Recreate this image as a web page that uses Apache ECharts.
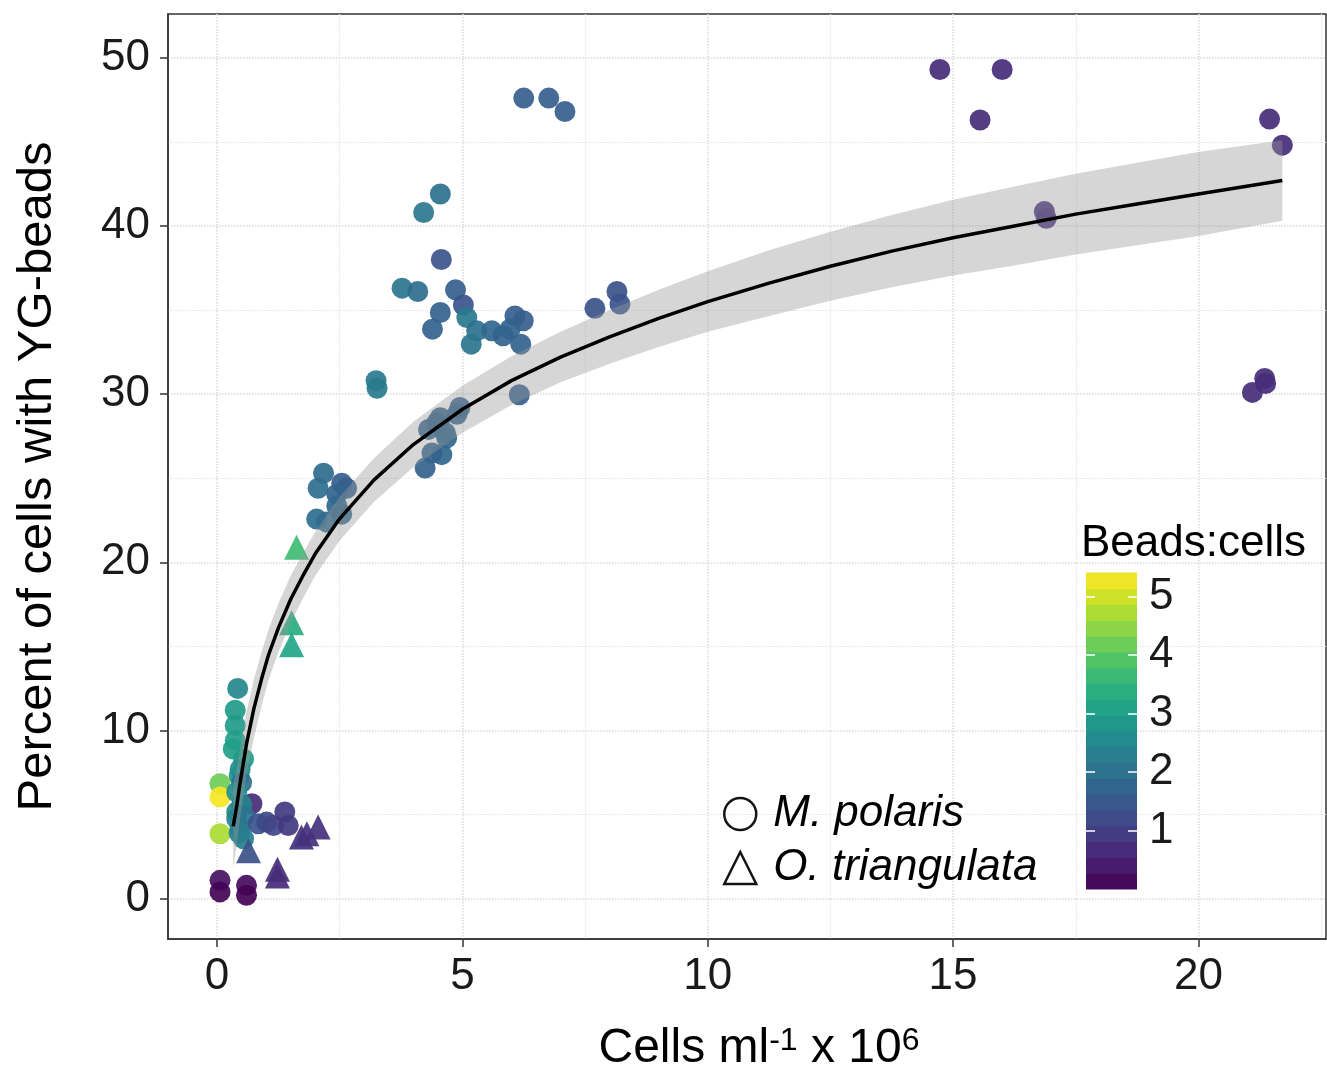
<!DOCTYPE html>
<html><head><meta charset="utf-8">
<script src="https://cdn.jsdelivr.net/npm/echarts@6/dist/echarts.min.js"></script>
<style>html,body{margin:0;padding:0;background:#fff}#c{width:1327px;height:1078px}</style>
</head><body><div id="c"></div>
<script>
// ---- data ----
const polarisX = [14.73,16.0,15.55,21.45,21.71,16.86,16.9,21.1,21.35,21.37,
  6.25,6.76,7.09, 7.7,8.15,8.21,
  4.55,4.21,4.57,3.77,4.09,4.86,5.02,4.55,5.09,4.39,5.29,5.18,5.6,5.83,6.07,6.24,5.97,6.19,3.24,3.26,6.16,
  4.24,4.58,4.38,4.55,4.31,4.65,4.68,4.95,4.89,4.48,
  2.17,2.06,2.54,2.64,2.44,2.03,2.23,2.54,2.44,
  0.42,0.37,0.37,0.37,0.33,0.54,0.47,0.45,0.5,0.06,0.06,0.4,0.71,0.4,0.5,0.06,0.4,0.47,0.55,0.54,0.45,
  0.84,1.01,1.15,1.38,1.45,0.06,0.06,0.6,0.6];
const polarisY = [49.3,49.3,46.3,46.35,44.8,40.85,40.45,30.1,30.93,30.63,
  47.6,47.6,46.8, 35.1,36.1,35.35,
  41.9,40.8,38.0,36.3,36.1,36.2,35.3,34.85,34.55,33.86,33.76,32.97,33.76,33.47,34.65,34.36,33.86,32.97,30.8,30.35,29.96,
  25.6,26.4,26.5,28.6,27.9,27.7,27.4,29.2,28.8,28.3,
  25.3,24.4,24.7,24.4,24.05,22.57,22.4,22.86,23.35,
  12.5,11.2,10.3,9.4,8.9,8.3,7.7,7.3,6.9,6.83,6.04,6.33,5.64,5.15,5.6,3.86,4.75,4.16,4.9,3.56,3.9,
  4.45,4.55,4.35,5.15,4.35,1.09,0.4,0.79,0.2];
const polarisRatio = [0.7,0.7,0.7,0.7,0.7,0.75,0.75,0.7,0.7,0.7,
  1.6,1.6,1.6, 1.35,1.35,1.4,
  2.0,2.15,1.4,2.1,1.95,1.6,1.4,1.7,2.2,1.7,2.0,2.1,1.8,1.7,1.6,1.6,1.7,1.7,2.2,2.2,1.6,
  1.7,1.8,1.7,1.7,1.7,1.7,1.8,1.7,1.7,1.7,
  1.9,1.95,1.6,1.65,1.7,1.95,1.9,1.8,1.8,
  2.5,2.9,2.9,3.0,3.0,2.9,2.6,2.7,2.0,4.2,5.35,2.6,0.7,2.5,2.4,4.7,2.4,2.2,2.1,2.3,2.3,
  1.4,1.2,1.1,0.9,0.9,0.25,0.05,0.15,0.02];

const triX = [1.62,1.52,1.52,0.64,1.72,1.83,2.06,1.23,1.23];
const triY = [20.9,16.4,15.1,2.85,3.66,3.86,4.26,1.35,1.75];
const triRatio = [3.7,3.35,3.2,1.35,0.75,0.75,0.75,0.7,0.7];

// fitted curve and its confidence band
const fitX  = [0.33,0.4,0.47,0.6,0.75,0.91,1.05,1.25,1.5,1.75,2.0,2.5,3.2,4.0,5.0,6.0,7.0,8.0,9.0,10.0,11.25,12.5,13.75,15.0,16.25,17.5,18.75,20.0,21.71];
const fitY  = [4.3,5.5,6.9,9.2,11.3,13.1,14.5,16.1,17.8,19.2,20.5,22.6,24.9,27.0,29.1,30.8,32.2,33.4,34.5,35.5,36.6,37.6,38.5,39.3,40.0,40.7,41.3,41.9,42.7];
const fitLo = [1.8,3.2,4.8,7.3,9.55,11.5,13.0,14.65,16.4,17.85,19.2,21.3,23.6,25.65,27.7,29.35,30.7,31.8,32.8,33.7,34.65,35.55,36.35,37.05,37.65,38.3,38.85,39.4,40.3];
const fitHi = [6.8,7.8,9.0,11.1,13.05,14.7,16.0,17.55,19.2,20.55,21.8,23.9,26.2,28.35,30.5,32.25,33.7,35.0,36.2,37.3,38.55,39.65,40.65,41.55,42.35,43.1,43.75,44.4,45.1];

const xTicks = [0,5,10,15,20];
const yTicks = [0,10,20,30,40,50];
const barTicks = [1,2,3,4,5];
const ratioMin = 0, ratioMax = 5.4, barSteps = 20;

const viridis = ['#440154','#482475','#414487','#355f8d','#2a788e','#21918c','#22a884','#44bf70','#7ad151','#bddf26','#fde725'];
const FONT = "'Liberation Sans', Arial, Helvetica, sans-serif";

// colour-bar legend steps (legend construction, not data)
const barLevels = [];
for (let i = 0; i < barSteps; i++) {
  const lo = ratioMin + (ratioMax - ratioMin) * i / barSteps;
  const hi = ratioMin + (ratioMax - ratioMin) * (i + 1) / barSteps;
  barLevels.push([0, lo, hi, (lo + hi) / 2]);
}

const chart = echarts.init(document.getElementById('c'), null, {renderer: 'canvas'});
const axisColor = '#333333';

const option = {
  backgroundColor: '#ffffff',
  animation: false,
  textStyle: {fontFamily: FONT},
  title: {
    text: 'Beads:cells', left: 1081, top: 522, padding: 0,
    textStyle: {fontSize: 44, fontWeight: 'normal', color: '#000', fontFamily: FONT}
  },
  legend: {
    orient: 'vertical', left: 723, top: 792, padding: 0,
    itemWidth: 32, itemHeight: 32, itemGap: 10, selectedMode: false,
    textStyle: {fontSize: 44, fontStyle: 'italic', color: '#000', fontFamily: FONT, padding: [0, 0, 0, 12]},
    data: [
      {name: 'M. polaris', icon: 'circle', itemStyle: {color: 'rgba(0,0,0,0)', borderColor: '#000', borderWidth: 2.5}},
      {name: 'O. triangulata', icon: 'triangle', itemStyle: {color: 'rgba(0,0,0,0)', borderColor: '#000', borderWidth: 2.5}}
    ]
  },
  visualMap: [
    {type: 'continuous', show: false, min: ratioMin, max: ratioMax, dimension: 2, seriesIndex: [0, 1], inRange: {color: viridis}},
    {type: 'continuous', show: false, min: ratioMin, max: ratioMax, dimension: 3, seriesIndex: [4], inRange: {color: viridis}}
  ],
  grid: [
    {left: 168, top: 14, width: 1158, height: 926, show: true, borderColor: axisColor, borderWidth: 1.5, backgroundColor: 'rgba(0,0,0,0)'},
    {left: 1086, top: 573, width: 51, height: 316}
  ],
  xAxis: [
    {
      type: 'value', gridIndex: 0, min: -1.0, max: 22.6,
      name: '{a|Cells ml}{s|-1}{a| x 10}{s|6}', nameLocation: 'middle', nameGap: 86,
      nameTextStyle: {padding: [0, 0, 0, 24], rich: {a: {fontSize: 48, color: '#000', fontFamily: FONT}, s: {fontSize: 32, color: '#000', fontFamily: FONT, verticalAlign: 'top'}}},
      axisLine: {show: true, onZero: false, lineStyle: {color: axisColor, width: 1.5}},
      axisTick: {show: true, length: 8, customValues: xTicks, lineStyle: {color: axisColor, width: 1.5}},
      axisLabel: {customValues: xTicks, fontSize: 44, margin: 16, color: '#1a1a1a', fontFamily: FONT},
      splitLine: {show: true, lineStyle: {color: '#d9d9d9', type: 'dotted', width: 1.5}},
      minorTick: {show: false, splitNumber: 2},
      minorSplitLine: {show: true, lineStyle: {color: '#e3e3e3', type: 'dotted', width: 1.2}}
    },
    {type: 'value', gridIndex: 1, min: 0, max: 1, show: false}
  ],
  yAxis: [
    {
      type: 'value', gridIndex: 0, min: -2.4, max: 52.6,
      name: 'Percent of cells with YG-beads', nameLocation: 'middle', nameGap: 106,
      nameTextStyle: {fontSize: 49, color: '#000', fontFamily: FONT},
      axisLine: {show: true, onZero: false, lineStyle: {color: axisColor, width: 1.5}},
      axisTick: {show: true, length: 8, customValues: yTicks, lineStyle: {color: axisColor, width: 1.5}},
      axisLabel: {customValues: yTicks, fontSize: 44, margin: 18, color: '#1a1a1a', fontFamily: FONT},
      splitLine: {show: true, lineStyle: {color: '#d9d9d9', type: 'dotted', width: 1.5}},
      minorTick: {show: false, splitNumber: 2},
      minorSplitLine: {show: true, lineStyle: {color: '#e3e3e3', type: 'dotted', width: 1.2}}
    },
    {
      type: 'value', gridIndex: 1, min: ratioMin, max: ratioMax, position: 'left', z: 10,
      axisLine: {show: false}, splitLine: {show: false}, axisLabel: {show: false},
      axisTick: {show: true, inside: true, length: 9, customValues: barTicks, lineStyle: {color: '#ffffff', width: 1.5}}
    },
    {
      type: 'value', gridIndex: 1, min: ratioMin, max: ratioMax, position: 'right', z: 10,
      axisLine: {show: false}, splitLine: {show: false},
      axisLabel: {show: true, customValues: barTicks, fontSize: 44, margin: 12, color: '#1a1a1a', fontFamily: FONT},
      axisTick: {show: true, inside: true, length: 9, customValues: barTicks, lineStyle: {color: '#ffffff', width: 1.5}}
    }
  ],
  series: [
    {
      name: 'M. polaris', type: 'scatter', xAxisIndex: 0, yAxisIndex: 0, z: 2,
      symbol: 'circle', symbolSize: 21, itemStyle: {opacity: 0.92},
      data: polarisX.map((x, i) => [x, polarisY[i], polarisRatio[i]])
    },
    {
      name: 'O. triangulata', type: 'scatter', xAxisIndex: 0, yAxisIndex: 0, z: 2,
      symbol: 'triangle', symbolSize: 25, itemStyle: {opacity: 0.92},
      data: triX.map((x, i) => [x, triY[i], triRatio[i]])
    },
    {
      name: 'band', type: 'custom', xAxisIndex: 0, yAxisIndex: 0, z: 3, clip: true, silent: true,
      data: fitX.map((x, i) => [x, fitLo[i], fitHi[i]]),
      encode: {x: 0, y: [1, 2]},
      renderItem: function (params, api) {
        if (params.dataIndex !== 0) return null;
        const pts = [];
        for (let i = 0; i < fitX.length; i++) pts.push(api.coord([fitX[i], fitHi[i]]));
        for (let i = fitX.length - 1; i >= 0; i--) pts.push(api.coord([fitX[i], fitLo[i]]));
        return {type: 'polygon', shape: {points: pts}, style: {fill: 'rgba(153,153,153,0.4)', stroke: null}};
      }
    },
    {
      name: 'fit', type: 'line', xAxisIndex: 0, yAxisIndex: 0, z: 4, silent: true,
      showSymbol: false, smooth: false,
      lineStyle: {color: '#000', width: 3.5, join: 'round'},
      data: fitX.map((x, i) => [x, fitY[i]])
    },
    {
      name: 'bar', type: 'custom', xAxisIndex: 1, yAxisIndex: 1, z: 2, silent: true,
      data: barLevels,
      encode: {x: 0, y: [1, 2]},
      renderItem: function (params, api) {
        const p0 = api.coord([0, api.value(1)]);
        const p1 = api.coord([1, api.value(2)]);
        return {type: 'rect', shape: {x: p0[0], y: p1[1] - 0.5, width: p1[0] - p0[0], height: p0[1] - p1[1] + 1},
          style: {fill: api.visual('color')}};
      }
    }
  ]
};
chart.setOption(option);
</script>
</body></html>
